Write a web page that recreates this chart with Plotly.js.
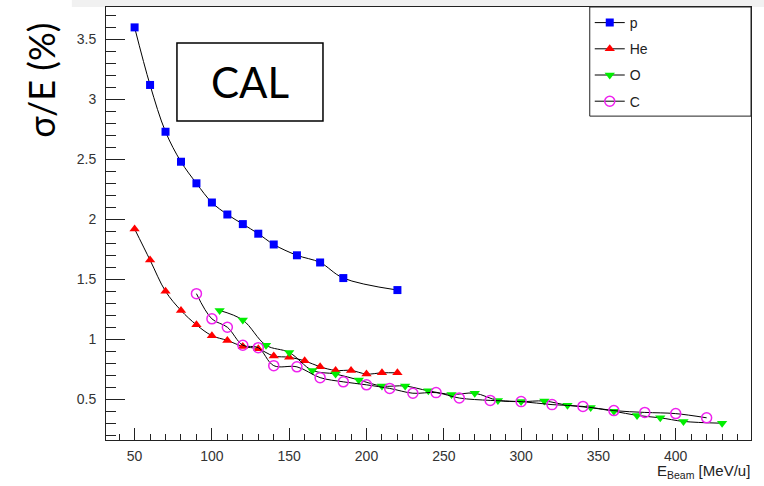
<!DOCTYPE html>
<html>
<head>
<meta charset="utf-8">
<script src="https://cdn.plot.ly/plotly-3.0.1.min.js"></script>
<style>html,body{margin:0;padding:0;background:#fff;}#chart{width:764px;height:486px;}</style>
</head>
<body>
<div id="chart"></div>
<script>
// Beam energy (MeV/u) and resolution sigma/E (%)
const pEnergy = [50, 60, 70, 80, 90, 100, 110, 120, 130, 140, 155, 170, 185, 220];
const pSigma  = [3.60, 3.12, 2.73, 2.48, 2.30, 2.14, 2.04, 1.96, 1.88, 1.79, 1.70, 1.64, 1.51, 1.41];

const heEnergy = [50, 60, 70, 80, 90, 100, 110, 120, 130, 140, 150, 160, 170, 180, 190, 200, 210, 220];
const heSigma  = [1.92, 1.66, 1.40, 1.24, 1.12, 1.03, 0.99, 0.94, 0.92, 0.86, 0.85, 0.82, 0.77, 0.74, 0.74, 0.71, 0.72, 0.72];

const oEnergy = [105, 120, 135, 150, 165, 180, 195, 210, 225, 240, 255, 270, 285, 300, 315, 330, 345, 360, 375, 390, 405, 430];
const oSigma  = [1.24, 1.16, 0.95, 0.89, 0.74, 0.71, 0.66, 0.61, 0.61, 0.57, 0.54, 0.55, 0.49, 0.48, 0.485, 0.45, 0.43, 0.40, 0.365, 0.345, 0.315, 0.30];

const cEnergy = [90, 100, 110, 120, 130, 140, 155, 170, 185, 200, 215, 230, 245, 260, 280, 300, 320, 340, 360, 380, 400, 420];
const cSigma  = [1.38, 1.17, 1.10, 0.95, 0.93, 0.78, 0.77, 0.68, 0.645, 0.62, 0.59, 0.55, 0.555, 0.51, 0.49, 0.48, 0.455, 0.44, 0.405, 0.39, 0.38, 0.345];

const seriesNames = ['p', 'He', 'O', 'C'];

const lineStyle = {color: '#000', width: 1, shape: 'spline', smoothing: 1};

const traces = [
  {x: pEnergy, y: pSigma, name: seriesNames[0], legendgroup: 'a', mode: 'lines+markers', line: lineStyle,
   marker: {symbol: 'square', size: 8, color: '#0000ff'}},
  {x: heEnergy, y: heSigma, name: seriesNames[1], legendgroup: 'b', mode: 'lines+markers', line: lineStyle,
   marker: {symbol: 'triangle-up', size: 9, color: '#ff0000'}},
  {x: oEnergy, y: oSigma, name: seriesNames[2], legendgroup: 'c', mode: 'lines+markers', line: lineStyle,
   marker: {symbol: 'triangle-down', size: 9, color: '#00ee00'}},
  {x: cEnergy, y: cSigma, name: seriesNames[3], legendgroup: 'd', mode: 'lines+markers', line: lineStyle,
   marker: {symbol: 'circle-open', size: 10, color: '#ee22ee', line: {width: 1.5}}}
];

const tickFont = {family: 'Liberation Sans, Arial, sans-serif', size: 14, color: '#333'};

const layout = {
  width: 764, height: 486,
  margin: {l: 106, r: 13, t: 7, b: 46, pad: 0},
  paper_bgcolor: '#fff', plot_bgcolor: '#fff',
  showlegend: true,
  legend: {x: 0.750, y: 1, xanchor: 'left', yanchor: 'top', bgcolor: 'rgba(0,0,0,0)',
           borderwidth: 0, tracegroupgap: 5,
           font: {family: 'Liberation Sans, Arial, sans-serif', size: 14, color: '#222'}},
  xaxis: {range: [31.5, 448.7], dtick: 50, tick0: 0, ticks: 'inside', ticklen: 12, tickcolor: '#222',
          showline: true, linecolor: '#222', linewidth: 1, mirror: true, showgrid: false, zeroline: false,
          tickfont: tickFont, ticklabelstandoff: 3,
          minor: {dtick: 10, ticks: 'inside', ticklen: 6, tickcolor: '#222', showgrid: false}},
  yaxis: {range: [0.16, 3.77], dtick: 0.5, tick0: 0, ticks: 'inside', ticklen: 19, tickcolor: '#222',
          showline: true, linecolor: '#222', linewidth: 1, mirror: true, showgrid: false, zeroline: false,
          tickfont: tickFont, ticklabelstandoff: 6,
          minor: {dtick: 0.1, ticks: 'inside', ticklen: 10, tickcolor: '#222', showgrid: false}},
  shapes: [
    {type: 'rect', xref: 'paper', yref: 'paper', x0: -0.053, x1: 1.03, y0: 1.0, y1: 1.0162,
     fillcolor: '#f1f1f1', line: {width: 0}, layer: 'below'},
    {type: 'rect', xref: 'paper', yref: 'paper', x0: 0.110, x1: 0.3364, y0: 0.737, y1: 0.917,
     fillcolor: 'rgba(0,0,0,0)', line: {color: '#000', width: 1.5}},
    {type: 'rect', xref: 'paper', yref: 'paper', x0: 0.750, x1: 1.0, y0: 0.748, y1: 1.0,
     fillcolor: '#fff', line: {color: '#222', width: 1}, layer: 'above'}
  ],
  annotations: [
    {text: 'CAL', xref: 'paper', yref: 'paper', x: 0.2233, y: 0.827, xanchor: 'center', yanchor: 'middle',
     showarrow: false, font: {family: 'Lato, Noto Sans, sans-serif', size: 42, color: '#000'}},
    {text: 'σ/E (%)', xref: 'paper', yref: 'paper', x: -0.102, y: 0.83, xanchor: 'center', yanchor: 'middle',
     textangle: -90, showarrow: false, font: {family: 'Lato, Noto Sans, sans-serif', size: 36, color: '#000'}},
    {text: 'E<sub>Beam</sub> [MeV/u]', xref: 'paper', yref: 'paper', x: 1.0016, y: -0.0716, xanchor: 'right', yanchor: 'middle',
     showarrow: false, font: {family: 'Liberation Sans, Arial, sans-serif', size: 15, color: '#222'}}
  ]
};

Plotly.newPlot('chart', traces, layout, {displayModeBar: false, staticPlot: true});
</script>
</body>
</html>
